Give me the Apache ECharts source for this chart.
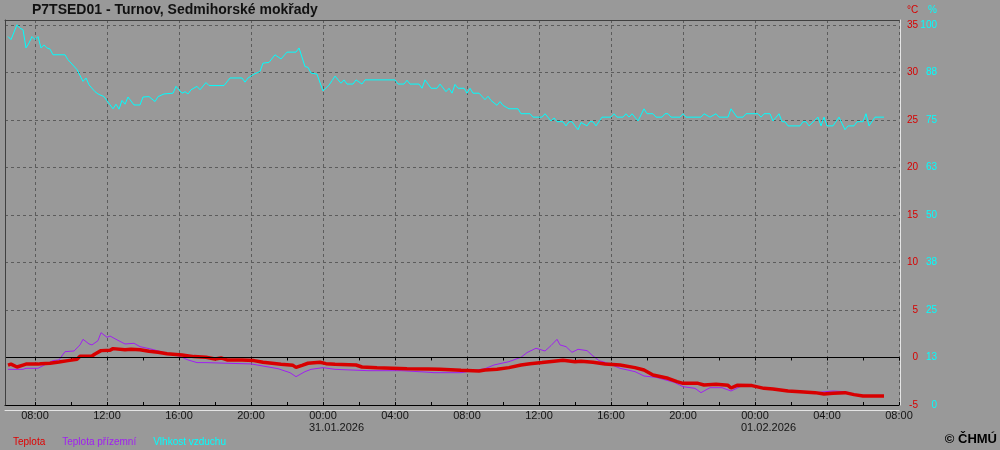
<!DOCTYPE html>
<html><head><meta charset="utf-8">
<script src="https://cdn.jsdelivr.net/npm/echarts@6/dist/echarts.min.js"></script>
<style>html,body{margin:0;padding:0;background:#999999;}#c{width:1000px;height:450px;}</style>
</head><body><div id="c"></div>
<script>
// ---------- DATA ----------
const chartTitle = 'P7TSED01 - Turnov, Sedmihorské mokřady';
const seriesNames = ['Teplota', 'Teplota přízemní', 'Vlhkost vzduchu'];
const xRange = ['2026-01-30 06:20', '2026-02-01 08:00'];
const tempRange = [-5, 35.5];      // °C axis
const humRange = [0, 101.25];      // % axis (same scale, 0 % = -5 °C, 100 % = 35 °C)

const humTimes = [
'2026-01-30 06:30','2026-01-30 06:40','2026-01-30 07:00','2026-01-30 07:10','2026-01-30 07:20','2026-01-30 07:30','2026-01-30 07:40','2026-01-30 07:50',
'2026-01-30 08:00','2026-01-30 08:10','2026-01-30 08:20','2026-01-30 08:30','2026-01-30 08:40','2026-01-30 08:50','2026-01-30 09:00','2026-01-30 09:40',
'2026-01-30 09:50','2026-01-30 10:20','2026-01-30 10:40','2026-01-30 10:50','2026-01-30 11:00','2026-01-30 11:20','2026-01-30 11:30','2026-01-30 11:50',
'2026-01-30 12:00','2026-01-30 12:20','2026-01-30 12:30','2026-01-30 12:40','2026-01-30 12:50','2026-01-30 13:00','2026-01-30 13:10','2026-01-30 13:30',
'2026-01-30 13:50','2026-01-30 14:00','2026-01-30 14:20','2026-01-30 14:40','2026-01-30 14:50','2026-01-30 15:10','2026-01-30 15:40','2026-01-30 15:50',
'2026-01-30 16:10','2026-01-30 16:20','2026-01-30 16:30','2026-01-30 16:40','2026-01-30 17:00','2026-01-30 17:10','2026-01-30 17:30','2026-01-30 17:40',
'2026-01-30 18:30','2026-01-30 18:50','2026-01-30 19:30','2026-01-30 19:40','2026-01-30 19:50','2026-01-30 20:10','2026-01-30 20:30','2026-01-30 20:40',
'2026-01-30 21:00','2026-01-30 21:20','2026-01-30 21:40','2026-01-30 22:00','2026-01-30 22:30','2026-01-30 22:40','2026-01-30 23:00','2026-01-30 23:10',
'2026-01-30 23:20','2026-01-30 23:40',
'2026-01-31 00:00','2026-01-31 00:20','2026-01-31 00:30','2026-01-31 00:40','2026-01-31 01:00','2026-01-31 01:10','2026-01-31 01:20','2026-01-31 01:40',
'2026-01-31 01:50','2026-01-31 02:10','2026-01-31 02:20','2026-01-31 04:00','2026-01-31 04:10','2026-01-31 04:30','2026-01-31 04:40','2026-01-31 04:50',
'2026-01-31 05:20','2026-01-31 05:30','2026-01-31 05:40','2026-01-31 06:00','2026-01-31 06:20','2026-01-31 06:30','2026-01-31 06:50','2026-01-31 07:00',
'2026-01-31 07:10','2026-01-31 07:20','2026-01-31 07:30','2026-01-31 07:50','2026-01-31 08:00','2026-01-31 08:10','2026-01-31 08:20','2026-01-31 08:40',
'2026-01-31 09:00','2026-01-31 09:10','2026-01-31 09:20','2026-01-31 09:40','2026-01-31 09:50','2026-01-31 10:00','2026-01-31 10:20','2026-01-31 10:50',
'2026-01-31 11:00','2026-01-31 11:30','2026-01-31 11:40','2026-01-31 12:10','2026-01-31 12:20','2026-01-31 12:40','2026-01-31 12:50','2026-01-31 13:00',
'2026-01-31 13:20','2026-01-31 13:30','2026-01-31 13:40','2026-01-31 13:50','2026-01-31 14:00','2026-01-31 14:10','2026-01-31 14:20','2026-01-31 14:40',
'2026-01-31 14:50','2026-01-31 15:00','2026-01-31 15:10','2026-01-31 15:30','2026-01-31 16:00','2026-01-31 16:10','2026-01-31 16:20','2026-01-31 16:40',
'2026-01-31 16:50','2026-01-31 17:00','2026-01-31 17:10','2026-01-31 17:30','2026-01-31 17:50','2026-01-31 18:00','2026-01-31 18:20','2026-01-31 18:30',
'2026-01-31 18:50','2026-01-31 19:00','2026-01-31 19:10','2026-01-31 19:20','2026-01-31 19:50','2026-01-31 20:00','2026-01-31 20:10','2026-01-31 21:00',
'2026-01-31 21:10','2026-01-31 21:30','2026-01-31 21:50','2026-01-31 22:00','2026-01-31 22:30','2026-01-31 22:40','2026-01-31 23:00','2026-01-31 23:20',
'2026-01-31 23:30',
'2026-02-01 00:10','2026-02-01 00:20','2026-02-01 00:30','2026-02-01 00:50','2026-02-01 01:00','2026-02-01 01:20','2026-02-01 01:30','2026-02-01 01:40',
'2026-02-01 01:50','2026-02-01 02:30','2026-02-01 02:40','2026-02-01 02:50','2026-02-01 03:00','2026-02-01 03:30','2026-02-01 03:40','2026-02-01 03:50',
'2026-02-01 04:00','2026-02-01 04:20','2026-02-01 04:40','2026-02-01 05:00','2026-02-01 05:10','2026-02-01 05:30','2026-02-01 05:40','2026-02-01 06:00',
'2026-02-01 06:10','2026-02-01 06:20','2026-02-01 06:40','2026-02-01 07:10'
];
const humValues = [
96.9,96.1,100,99.1,98.7,93.9,95.2,96.9,
96.1,96.9,93.9,94.7,93.9,93.6,92.1,92.1,
90.8,88.2,85.1,86.0,84.2,82.4,81.8,81.1,
80.0,77.9,79.1,77.8,80.1,79.1,81.0,78.9,
78.9,81.0,81.1,79.8,81.1,81.8,82.0,83.8,
82.0,82.4,81.8,82.9,83.8,82.9,84.8,84.0,
84.0,86.0,86.0,84.9,86.0,87.0,87.7,89.9,
90.1,92.1,91.0,92.8,92.8,93.9,89.0,88.8,
87.3,87.0,
82.6,84.1,85.3,86.5,84.6,85.5,84.4,84.4,
85.5,84.4,85.5,85.5,84.4,84.4,85.4,84.4,
84.4,83.3,85.5,83.3,83.3,84.4,82.4,83.3,
82.0,84.3,83.3,83.3,82.0,83.3,82.0,82.0,
80.3,81.2,80.1,78.8,79.8,78.8,77.9,77.9,
76.6,76.6,75.7,75.7,76.6,74.7,75.5,74.5,
74.5,73.4,74.5,74.5,73.4,72.4,74.3,73.4,
74.5,74.5,73.4,75.7,75.7,76.6,75.7,75.7,
76.6,75.7,76.6,74.7,77.9,76.6,76.6,75.7,
75.7,76.6,76.6,75.7,75.7,76.6,75.7,75.7,
76.6,75.7,76.6,75.7,75.7,77.9,75.7,75.7,
76.6,
76.6,75.7,76.6,76.6,74.7,76.6,74.5,74.5,
73.4,73.4,74.5,74.5,73.4,75.7,73.4,75.7,
73.4,73.4,75.7,72.4,73.4,73.4,74.5,74.5,
76.6,73.4,75.7,75.7
];

const tempTimes = [
'2026-01-30 06:30','2026-01-30 06:40','2026-01-30 07:00','2026-01-30 07:20','2026-01-30 07:30','2026-01-30 08:10','2026-01-30 08:20','2026-01-30 08:50',
'2026-01-30 09:20','2026-01-30 09:50','2026-01-30 10:20','2026-01-30 10:30','2026-01-30 11:10','2026-01-30 11:20','2026-01-30 11:40','2026-01-30 12:10',
'2026-01-30 12:20','2026-01-30 13:00','2026-01-30 13:20','2026-01-30 13:50','2026-01-30 14:20','2026-01-30 14:50','2026-01-30 15:20','2026-01-30 16:10',
'2026-01-30 16:50','2026-01-30 17:30','2026-01-30 18:00','2026-01-30 18:20','2026-01-30 18:40','2026-01-30 19:30','2026-01-30 20:10','2026-01-30 20:40',
'2026-01-30 21:40','2026-01-30 22:20','2026-01-30 22:30','2026-01-30 22:50','2026-01-30 23:10','2026-01-30 23:50',
'2026-01-31 00:10','2026-01-31 00:40','2026-01-31 01:50','2026-01-31 02:10','2026-01-31 03:00','2026-01-31 04:40','2026-01-31 05:50','2026-01-31 06:30',
'2026-01-31 07:40','2026-01-31 08:40','2026-01-31 09:00','2026-01-31 09:40','2026-01-31 10:20','2026-01-31 11:00','2026-01-31 11:30','2026-01-31 12:10',
'2026-01-31 12:50','2026-01-31 13:20','2026-01-31 14:00','2026-01-31 14:20','2026-01-31 15:00','2026-01-31 15:40','2026-01-31 16:30','2026-01-31 17:20',
'2026-01-31 17:50','2026-01-31 18:20','2026-01-31 19:10','2026-01-31 19:40','2026-01-31 20:00','2026-01-31 20:50','2026-01-31 21:10','2026-01-31 21:50',
'2026-01-31 22:30','2026-01-31 22:40','2026-01-31 23:00','2026-01-31 23:50',
'2026-02-01 00:30','2026-02-01 01:00','2026-02-01 01:50','2026-02-01 02:30','2026-02-01 03:20','2026-02-01 03:50','2026-02-01 04:20','2026-02-01 05:00',
'2026-02-01 05:30','2026-02-01 06:00','2026-02-01 07:10'
];
const tempValues = [
-0.8,-0.7,-1.0,-0.8,-0.7,-0.7,-0.65,-0.6,
-0.47,-0.33,-0.19,0.12,0.16,0.37,0.72,0.75,
0.93,0.82,0.86,0.82,0.65,0.54,0.40,0.26,
0.09,0.02,-0.16,-0.05,-0.26,-0.26,-0.33,-0.51,
-0.72,-0.83,-1.04,-0.83,-0.61,-0.51,
-0.65,-0.72,-0.79,-1.0,-1.07,-1.18,-1.21,-1.25,
-1.35,-1.42,-1.32,-1.25,-1.07,-0.79,-0.65,-0.54,
-0.40,-0.30,-0.44,-0.40,-0.51,-0.68,-0.79,-1.07,
-1.32,-1.84,-2.19,-2.54,-2.72,-2.72,-2.89,-2.82,
-2.93,-3.21,-2.93,-2.96,
-3.25,-3.32,-3.53,-3.60,-3.70,-3.84,-3.77,-3.70,
-3.91,-4.05,-4.05
];

const groundTimes = [
'2026-01-30 06:30','2026-01-30 07:20','2026-01-30 07:30','2026-01-30 08:10','2026-01-30 08:20','2026-01-30 09:00','2026-01-30 09:20','2026-01-30 09:40',
'2026-01-30 10:10','2026-01-30 10:30','2026-01-30 10:40','2026-01-30 11:00','2026-01-30 11:10','2026-01-30 11:30','2026-01-30 11:40','2026-01-30 12:00',
'2026-01-30 12:10','2026-01-30 12:30','2026-01-30 13:00','2026-01-30 13:30','2026-01-30 13:50','2026-01-30 14:30','2026-01-30 15:20','2026-01-30 16:00',
'2026-01-30 16:30','2026-01-30 17:00','2026-01-30 17:30','2026-01-30 18:40','2026-01-30 20:00','2026-01-30 20:40','2026-01-30 21:30','2026-01-30 22:10',
'2026-01-30 22:30','2026-01-30 23:00','2026-01-30 23:20',
'2026-01-31 00:00','2026-01-31 00:40','2026-01-31 02:30','2026-01-31 04:20','2026-01-31 05:40','2026-01-31 06:10','2026-01-31 07:40','2026-01-31 08:20',
'2026-01-31 09:00','2026-01-31 09:30','2026-01-31 10:20','2026-01-31 11:00','2026-01-31 11:20','2026-01-31 11:50','2026-01-31 12:20','2026-01-31 12:40',
'2026-01-31 13:00','2026-01-31 13:10','2026-01-31 13:30','2026-01-31 13:50','2026-01-31 14:10','2026-01-31 14:40','2026-01-31 15:00','2026-01-31 15:20',
'2026-01-31 15:50','2026-01-31 16:30','2026-01-31 17:20','2026-01-31 17:50','2026-01-31 18:30','2026-01-31 19:30','2026-01-31 20:00','2026-01-31 20:40',
'2026-01-31 21:00','2026-01-31 21:30','2026-01-31 22:10','2026-01-31 22:40','2026-01-31 23:10','2026-01-31 23:50',
'2026-02-01 00:30','2026-02-01 01:10','2026-02-01 02:30','2026-02-01 03:20','2026-02-01 04:20','2026-02-01 05:00','2026-02-01 05:30','2026-02-01 06:00',
'2026-02-01 07:10'
];
const groundValues = [
-1.25,-1.25,-1.14,-1.14,-0.97,-0.33,-0.26,0.61,
0.68,1.32,1.91,1.42,1.32,1.77,2.61,2.12,
2.26,1.91,1.42,1.49,1.14,0.86,0.44,0.16,
-0.26,-0.54,-0.54,-0.61,-0.68,-0.90,-1.18,-1.60,
-2.02,-1.49,-1.25,
-1.07,-1.25,-1.39,-1.39,-1.53,-1.60,-1.60,-1.39,
-1.18,-0.79,-0.44,0.02,0.51,0.97,0.68,1.25,
1.91,1.32,1.14,0.54,0.86,0.72,0.16,-0.33,
-0.61,-1.14,-1.49,-1.95,-2.09,-2.61,-3.07,-3.25,
-3.70,-3.18,-3.18,-3.53,-3.07,-2.96,
-3.25,-3.42,-3.53,-3.70,-3.53,-3.60,-3.84,-4.05,
-4.05
];

// ---------- CHART ----------
const H = 3600 * 1000;
const ts = s => echarts.number.parseDate(s).getTime();
const pair = (times, vals) => times.map((t, i) => [ts(t), vals[i]]);
const xMin = ts(xRange[0]), xMax = ts(xRange[1]);
const FONT = 'Liberation Sans, Arial, sans-serif';
const C_RED = '#d80000', C_PURPLE = '#a020f0', C_CYAN = '#00ffff';

function pad2(n){ return (n < 10 ? '0' : '') + n; }
function timeLabel(value){
  const d = new Date(value);
  const h = d.getHours(), m = d.getMinutes();
  if (m !== 0 || h % 4 !== 0) return '';
  const hh = pad2(h) + ':00';
  if (h === 0) {
    return '{t|' + hh + '}\n{d|' + pad2(d.getDate()) + '.' + pad2(d.getMonth() + 1) + '.' + d.getFullYear() + '}';
  }
  return hh;
}
const baseTimeAxis = {
  type: 'time', gridIndex: 0, min: xMin, max: xMax,
  axisLabel: { show: false }, axisTick: { show: false },
  axisLine: { show: false }, splitLine: { show: false }
};

const chart = echarts.init(document.getElementById('c'), null, { renderer: 'canvas' });
chart.setOption({
  animation: false,
  backgroundColor: '#999999',
  textStyle: { fontFamily: FONT },
  title: [
    { text: chartTitle, left: 32, top: 3, padding: 0,
      textStyle: { fontSize: 14, fontWeight: 'bold', color: '#111', fontFamily: FONT } },
    { text: '°C', left: 907, top: 5, padding: 0,
      textStyle: { fontSize: 10, fontWeight: 'normal', color: C_RED, fontFamily: FONT } },
    { text: '%', left: 928, top: 5, padding: 0,
      textStyle: { fontSize: 10, fontWeight: 'normal', color: C_CYAN, fontFamily: FONT } },
    { text: '© ČHMÚ', right: 3, top: 433, padding: 0,
      textStyle: { fontSize: 13, fontWeight: 'bold', color: '#000', fontFamily: FONT } }
  ],
  legend: {
    left: 7, top: 437, padding: 0, itemWidth: 0, itemHeight: 0, itemGap: 11,
    selectedMode: false,
    textStyle: { fontSize: 10, fontFamily: FONT },
    data: [
      { name: seriesNames[0], textStyle: { color: '#e00000' } },
      { name: seriesNames[1], textStyle: { color: C_PURPLE } },
      { name: seriesNames[2], textStyle: { color: C_CYAN } }
    ]
  },
  grid: { left: 5, right: 101, top: 20, bottom: 45, show: false, containLabel: false },
  xAxis: [
    Object.assign({}, baseTimeAxis, {
      position: 'bottom', minInterval: 4 * H, maxInterval: 4 * H,
      axisLine: { show: true, onZero: false, lineStyle: { color: '#000', width: 1 } },
      splitLine: { show: true, lineStyle: { color: '#5c5c5c', width: 1, type: [3, 3] } },
      axisLabel: {
        show: true, formatter: timeLabel, color: '#151515', fontSize: 11, fontFamily: FONT,
        margin: 5, lineHeight: 12, hideOverlap: false, showMinLabel: true, showMaxLabel: true,
        rich: {
          t: { fontSize: 11, fontFamily: FONT, color: '#151515', lineHeight: 12, align: 'center' },
          d: { fontSize: 11, fontFamily: FONT, color: '#151515', lineHeight: 12, padding: [0, 0, 0, 27] }
        }
      }
    }),
    Object.assign({}, baseTimeAxis, {
      position: 'bottom', minInterval: 2.5 * H, maxInterval: 2.5 * H,
      axisTick: { show: true, inside: false, length: 3, lineStyle: { color: '#000', width: 1 } }
    }),
    Object.assign({}, baseTimeAxis, {
      position: 'bottom', minInterval: 2.5 * H, maxInterval: 2.5 * H,
      axisTick: { show: true, inside: true, length: 3, lineStyle: { color: '#000', width: 1 } }
    }),
    Object.assign({}, baseTimeAxis, {
      position: 'bottom', offset: 5,
      axisLine: { show: true, onZero: false, lineStyle: { color: '#e4e4e4', width: 1 } }
    }),
    Object.assign({}, baseTimeAxis, {
      position: 'top', z: 5,
      axisLine: { show: true, onZero: false, lineStyle: { color: '#404040', width: 1 } }
    })
  ],
  yAxis: [
    { type: 'value', position: 'right', offset: 1, min: tempRange[0], max: tempRange[1], interval: 5,
      axisLine: { show: true, onZero: false, lineStyle: { color: '#e4e4e4', width: 1 } },
      axisTick: { show: false },
      axisLabel: { color: C_RED, fontSize: 10, fontFamily: FONT, align: 'right', margin: 18,
        showMaxLabel: false, showMinLabel: true },
      splitLine: { show: true, lineStyle: { color: '#5c5c5c', width: 1, type: [3, 3] } } },
    { type: 'value', position: 'right', offset: 0, min: humRange[0], max: humRange[1], interval: 12.5,
      axisLine: { show: false }, axisTick: { show: false }, splitLine: { show: false },
      axisLabel: { color: C_CYAN, fontSize: 10, fontFamily: FONT, align: 'right', margin: 38,
        showMaxLabel: false, showMinLabel: true, formatter: v => String(Math.round(v)) } },
    { type: 'value', position: 'left', min: tempRange[0], max: tempRange[1], z: 5,
      axisLine: { show: true, onZero: false, lineStyle: { color: '#404040', width: 1 } },
      axisTick: { show: false }, axisLabel: { show: false }, splitLine: { show: false } }
  ],
  series: [
    { name: seriesNames[2], type: 'line', xAxisIndex: 0, yAxisIndex: 1,
      data: pair(humTimes, humValues), symbol: 'none', showSymbol: false,
      lineStyle: { color: C_CYAN, width: 1 }, itemStyle: { color: C_CYAN } },
    { name: seriesNames[1], type: 'line', xAxisIndex: 0, yAxisIndex: 0,
      data: pair(groundTimes, groundValues), symbol: 'none', showSymbol: false,
      lineStyle: { color: C_PURPLE, width: 1 }, itemStyle: { color: C_PURPLE } },
    { name: seriesNames[0], type: 'line', xAxisIndex: 0, yAxisIndex: 0,
      data: pair(tempTimes, tempValues), symbol: 'none', showSymbol: false,
      lineStyle: { color: C_RED, width: 3.5 }, itemStyle: { color: C_RED },
      markLine: { silent: true, symbol: 'none', label: { show: false },
        lineStyle: { color: '#000', width: 1, type: 'solid' },
        data: [{ yAxis: 0 }] } }
  ]
});
</script>
</body></html>
